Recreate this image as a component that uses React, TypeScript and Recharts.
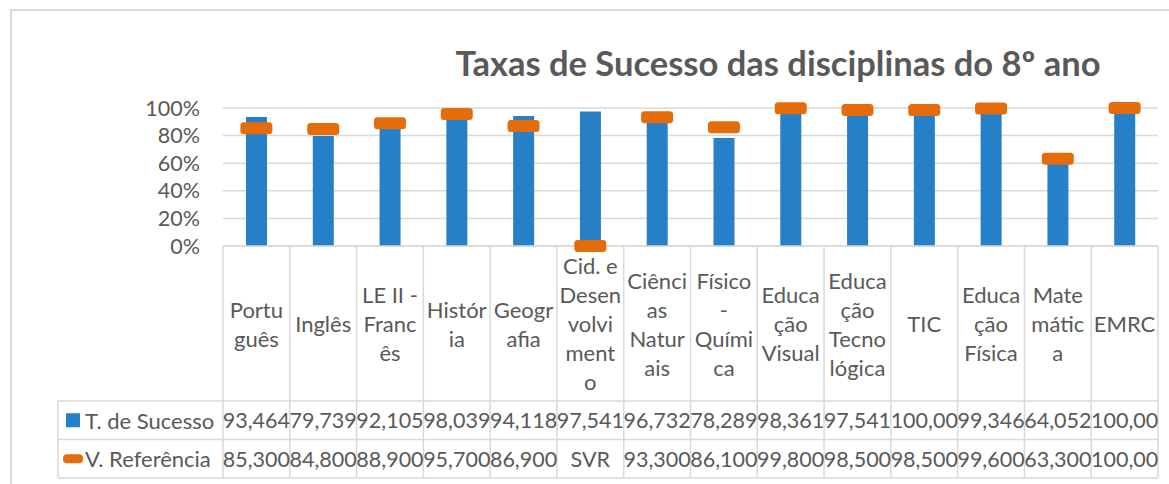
import { Bar, CartesianGrid, ComposedChart, Line, XAxis, YAxis } from "recharts";

const categories = [
  "Português",
  "Inglês",
  "LE II - Francês",
  "História",
  "Geografia",
  "Cid. e Desenvolvimento",
  "Ciências Naturais",
  "Físico-Química",
  "Educação Visual",
  "Educação Tecnológica",
  "TIC",
  "Educação Física",
  "Matemática",
  "EMRC",
];

// how Excel wrapped the labels inside the data table cells
const categoryLines = [
  ["Portu", "guês"],
  ["Inglês"],
  ["LE II -", "Franc", "ês"],
  ["Histór", "ia"],
  ["Geogr", "afia"],
  ["Cid. e", "Desen", "volvi", "ment", "o"],
  ["Ciênci", "as", "Natur", "ais"],
  ["Físico", "-", "Quími", "ca"],
  ["Educa", "ção", "Visual"],
  ["Educa", "ção", "Tecno", "lógica"],
  ["TIC"],
  ["Educa", "ção", "Física"],
  ["Mate", "mátic", "a"],
  ["EMRC"],
];

const successValues = [
  93.464, 79.739, 92.105, 98.039, 94.118, 97.541, 96.732, 78.289, 98.361,
  97.541, 100.0, 99.346, 64.052, 100.0,
];

// null = "SVR" (sem valor de referência), plotted at 0 like Excel does
const refValues: (number | null)[] = [
  85.3, 84.8, 88.9, 95.7, 86.9, null, 93.3, 86.1, 99.8, 98.5, 98.5, 99.6, 63.3,
  100.0,
];

const yTicks = [0, 20, 40, 60, 80, 100];

const seriesNames = ["T. de Sucesso", "V. Referência"];

const W = 1169;
const H = 484;
const PLOT_LEFT = 223;
const PLOT_RIGHT = 1158;
const PLOT_TOP = 108;
const PLOT_BOTTOM = 246;
const COL_W = (PLOT_RIGHT - PLOT_LEFT) / categories.length;
const HEADER_H = 155;
const ROW_H = 38.5;
const TABLE_LEFT = 58;

const BLUE = "#2680C8";
const ORANGE = "#E46C0A";
const GRID = "#D9D9D9";
const TEXT = "#595959";
const FONT = "Lato, 'Open Sans', sans-serif";

const data = categories.map((name, i) => ({
  name,
  success: successValues[i],
  reference: refValues[i] ?? 0,
}));

const fmt = (v: number | null) =>
  v === null ? "SVR" : v.toFixed(3).replace(".", ",").slice(0, 6);

function DashDot(props: any) {
  const { cx, cy, index } = props;
  if (cx == null || cy == null) return null;
  return (
    <rect
      key={`d-${index}`}
      x={cx - 16}
      y={cy - 6}
      width={32}
      height={12}
      rx={3.5}
      fill={ORANGE}
    />
  );
}

function TableTick(props: any) {
  const { x, y, payload } = props;
  const i: number = payload.index;
  const left = x - COL_W / 2;
  const right = x + COL_W / 2;
  const rowTop = y + HEADER_H;
  const row1 = rowTop + ROW_H;
  const row2 = row1 + ROW_H;
  const lines = categoryLines[i];
  const midHeader = y + HEADER_H / 2;
  const lh = 29;
  const textStyle = { fontFamily: FONT, fontSize: 22, fill: TEXT };
  const numStyle = { fontFamily: FONT, fontSize: 21.5, fill: TEXT };

  return (
    <g>
      {/* cell borders */}
      <line x1={right} x2={right} y1={y} y2={row2} stroke={GRID} strokeWidth={1.5} />
      {i === 0 && (
        <line x1={left} x2={left} y1={y} y2={row2} stroke={GRID} strokeWidth={1.5} />
      )}
      {[rowTop, row1, row2].map((yy) => (
        <line key={yy} x1={left} x2={right} y1={yy} y2={yy} stroke={GRID} strokeWidth={1.5} />
      ))}

      {/* category label */}
      {lines.map((t, k) => (
        <text
          key={k}
          x={x}
          y={midHeader + (k - (lines.length - 1) / 2) * lh}
          textAnchor="middle"
          dominantBaseline="central"
          {...textStyle}
        >
          {t}
        </text>
      ))}

      {/* values */}
      <text x={x} y={rowTop + ROW_H / 2} textAnchor="middle" dominantBaseline="central" {...numStyle}>
        {fmt(successValues[i])}
      </text>
      <text x={x} y={row1 + ROW_H / 2} textAnchor="middle" dominantBaseline="central" {...numStyle}>
        {fmt(refValues[i])}
      </text>

      {/* legend column of the data table */}
      {i === 0 && (
        <g>
          <line x1={TABLE_LEFT} x2={TABLE_LEFT} y1={rowTop} y2={row2} stroke={GRID} strokeWidth={1.5} />
          {[rowTop, row1, row2].map((yy) => (
            <line key={yy} x1={TABLE_LEFT} x2={left} y1={yy} y2={yy} stroke={GRID} strokeWidth={1.5} />
          ))}
          <rect x={66} y={rowTop + ROW_H / 2 - 7} width={14} height={14} fill={BLUE} />
          <rect x={63} y={row1 + ROW_H / 2 - 4.5} width={20} height={9} rx={4} fill={ORANGE} />
          <text x={85} y={rowTop + ROW_H / 2} dominantBaseline="central" {...textStyle}>
            {seriesNames[0]}
          </text>
          <text x={85} y={row1 + ROW_H / 2} dominantBaseline="central" {...textStyle}>
            {seriesNames[1]}
          </text>
        </g>
      )}
    </g>
  );
}

export default function App() {
  return (
    <div
      style={{
        position: "absolute",
        left: 0,
        top: 0,
        width: W,
        height: H,
        overflow: "hidden",
        background: "#fff",
      }}
    >
      <div
        style={{
          position: "absolute",
          left: 10,
          top: 9,
          width: 1400,
          height: 700,
          border: `2px solid ${GRID}`,
        }}
      />
      <svg
        width={W}
        height={H}
        style={{ position: "absolute", left: 0, top: 0 }}
      >
        <text
          x={778}
          y={76}
          textAnchor="middle"
          fontFamily={FONT}
          fontWeight="bold"
          fontSize={34.5}
          fill={TEXT}
        >
          Taxas de Sucesso das disciplinas do 8º ano
        </text>
      </svg>
      <div style={{ position: "absolute", left: 0, top: 0 }}>
        <ComposedChart
          width={W}
          height={H}
          data={data}
          margin={{
            top: PLOT_TOP,
            right: W - PLOT_RIGHT,
            bottom: 6,
            left: PLOT_LEFT - 60,
          }}
        >
          <CartesianGrid vertical={false} stroke={GRID} strokeWidth={1.5} />
          <XAxis
            dataKey="name"
            interval={0}
            height={H - 6 - PLOT_BOTTOM}
            tickLine={false}
            tickSize={0}
            tickMargin={0}
            axisLine={{ stroke: GRID, strokeWidth: 1.5 }}
            tick={<TableTick />}
          />
          <YAxis
            width={60}
            domain={[0, 100]}
            ticks={yTicks}
            interval={0}
            tickFormatter={(v: number) => `${v}%`}
            axisLine={false}
            tickLine={false}
            tickSize={0}
            tickMargin={23}
            tick={{ fontFamily: FONT, fontSize: 21.5, fill: TEXT }}
          />
          <Bar
            dataKey="success"
            name={seriesNames[0]}
            fill={BLUE}
            barSize={21}
            isAnimationActive={false}
          />
          <Line
            dataKey="reference"
            name={seriesNames[1]}
            stroke="none"
            dot={<DashDot />}
            activeDot={false}
            isAnimationActive={false}
          />
        </ComposedChart>
      </div>
    </div>
  );
}
